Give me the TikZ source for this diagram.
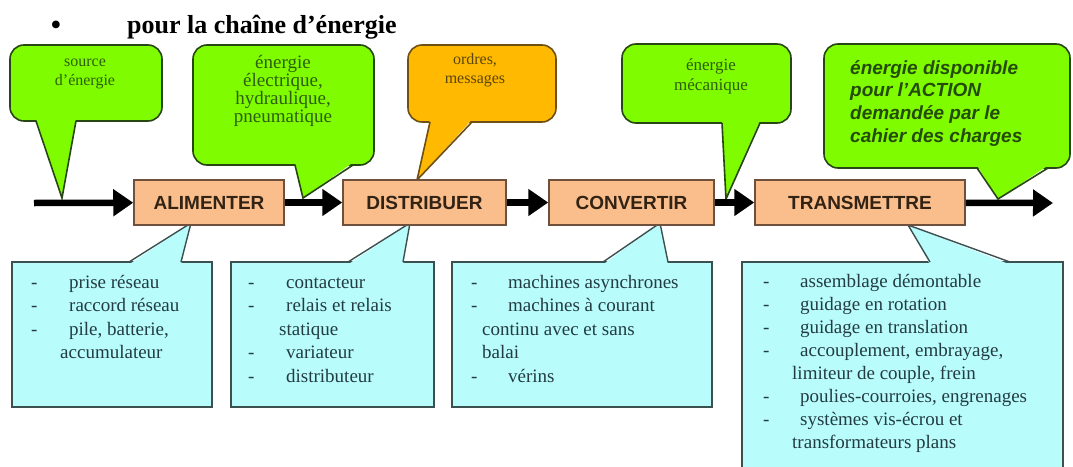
\documentclass[tikz,border=0pt]{standalone}
\usepackage{fontspec}
\setmainfont{Liberation Serif}
\newfontfamily\arialfont{Liberation Sans}
\usetikzlibrary{arrows.meta}

\definecolor{bubblegreen}{RGB}{128,252,0}
\definecolor{bubbleline}{RGB}{40,70,20}
\definecolor{bubbletext}{RGB}{45,95,10}
\definecolor{amber}{RGB}{255,185,0}
\definecolor{amberline}{RGB}{110,80,20}
\definecolor{ambertext}{RGB}{90,70,10}
\definecolor{peach}{RGB}{250,190,140}
\definecolor{peachline}{RGB}{110,80,60}
\definecolor{stagetext}{RGB}{50,35,20}
\definecolor{paleblue}{RGB}{185,252,252}
\definecolor{slateline}{RGB}{60,80,80}
\definecolor{slatetext}{RGB}{35,60,65}

% a dash followed by a tab stop, for the item lists
\newcommand\itemdash[1]{\makebox[#1pt][l]{-}}

% tail of a speech bubble: filled triangle that hides the box edge, then its two sides
\newcommand\downtail[6]{%
  \fill[#1] (#3,#5-2.5) -- #6 -- (#4,#5-2.5) -- cycle;
  \draw[#2, line width=1.6pt] (#3,#5) -- #6 -- (#4,#5);}
\newcommand\uptail[6]{%
  \fill[#1] (#3,#5+2.5) -- #6 -- (#4,#5+2.5) -- cycle;
  \draw[#2, line width=1.4pt] (#3,#5) -- #6 -- (#4,#5);}

\tikzset{
  bubble/.style={draw=bubbleline, fill=bubblegreen, line width=1.6pt,
    rounded corners=14pt, inner sep=0pt},
  orderbubble/.style={bubble, draw=amberline, fill=amber},
  notebox/.style={draw=slateline, fill=paleblue, line width=1.4pt, inner sep=0pt},
  stage/.style={draw=peachline, fill=peach, line width=1.5pt, minimum height=45,
    inner sep=0pt, text=stagetext, font=\arialfont\bfseries\fontsize{19}{22}\selectfont},
  bubbletxt/.style={inner sep=0pt, anchor=base, text=bubbletext},
  listtxt/.style={inner sep=0pt, anchor=base west, text=slatetext,
    font=\rmfamily\fontsize{19}{23.6}\selectfont},
  flow/.style={line width=6.5pt, -{Triangle[length=20pt,width=26pt]}},
}

\begin{document}
\begin{tikzpicture}[x=1pt,y=-1pt]
\useasboundingbox (0,0) rectangle (1073,466);
\fill[white] (0,0) rectangle (1073,466);
\clip (0,0) rectangle (1073,466);

% heading
\node[anchor=base, inner sep=0pt, font=\rmfamily\fontsize{32}{34}\selectfont] (bullet) at (56,35) {•};
\node[anchor=base west, inner sep=0pt, font=\rmfamily\bfseries\fontsize{26}{30}\selectfont] (title) at (127,33) {pour la chaîne d’énergie};

% speech bubbles above the chain
\node[bubble, minimum width=152, minimum height=76] (src) at (86,83) {};
\downtail{bubblegreen}{bubbleline}{36}{76}{121}{(62,198)}
\node[bubbletxt, font=\rmfamily\fontsize{16}{19}\selectfont] (srctxt) at (85,66)
  {\begin{tabular}[t]{@{}c@{}}source\\ d’énergie\end{tabular}};

\node[bubble, minimum width=181, minimum height=120] (elec) at (283.5,105) {};
\downtail{bubblegreen}{bubbleline}{295}{353}{165}{(303,198)}
\node[bubbletxt, font=\rmfamily\fontsize{19}{17.5}\selectfont] (electxt) at (283,68)
  {\begin{tabular}[t]{@{}c@{}}énergie\\ électrique,\\ hydraulique,\\ pneumatique\end{tabular}};

\node[orderbubble, minimum width=148, minimum height=77] (orders) at (482,83.5) {};
\downtail{amber}{amberline}{430}{472}{122}{(417,180)}
\node[bubbletxt, text=ambertext, font=\rmfamily\fontsize{16}{19}\selectfont] (orderstxt) at (475,64)
  {\begin{tabular}[t]{@{}c@{}}ordres,\\ messages\end{tabular}};

\node[bubble, minimum width=169, minimum height=79] (mech) at (706.5,83.5) {};
\downtail{bubblegreen}{bubbleline}{722}{760}{123}{(726,199)}
\node[bubbletxt, font=\rmfamily\fontsize{17}{20}\selectfont] (mechtxt) at (711,70)
  {\begin{tabular}[t]{@{}c@{}}énergie\\ mécanique\end{tabular}};

\node[bubble, minimum width=246, minimum height=124] (action) at (947,106) {};
\downtail{bubblegreen}{bubbleline}{977}{1048}{168}{(998,199)}
\node[bubbletxt, anchor=base west, text=bubbletext!80!black,
  font=\arialfont\bfseries\itshape\fontsize{19}{22.7}\selectfont] (actiontxt) at (850,74)
  {\begin{tabular}[t]{@{}l@{}}énergie disponible\\ pour l’ACTION\\ demandée par le\\ cahier des charges\end{tabular}};

% notes below the chain
\node[notebox, minimum width=200, minimum height=145] (noteA) at (112,334.5) {};
\uptail{paleblue}{slateline}{129}{181}{262}{(191,223)}
\node[listtxt] (listA) at (31,288) {\begin{tabular}[t]{@{}l@{}}
  \itemdash{38}prise réseau\\
  \itemdash{38}raccord réseau\\
  \itemdash{38}pile, batterie,\\
  \hspace*{29pt}accumulateur\end{tabular}};

\node[notebox, minimum width=203, minimum height=145] (noteB) at (332.5,334.5) {};
\uptail{paleblue}{slateline}{348}{403}{262}{(410,223)}
\node[listtxt] (listB) at (248,288) {\begin{tabular}[t]{@{}l@{}}
  \itemdash{38}contacteur\\
  \itemdash{38}relais et relais\\
  \hspace*{31pt}statique\\
  \itemdash{38}variateur\\
  \itemdash{38}distributeur\end{tabular}};

\node[notebox, minimum width=260, minimum height=145] (noteC) at (582,334.5) {};
\uptail{paleblue}{slateline}{603}{668}{262}{(660,223)}
\node[listtxt] (listC) at (471,288) {\begin{tabular}[t]{@{}l@{}}
  \itemdash{37}machines asynchrones\\
  \itemdash{37}machines à courant\\
  \hspace*{11pt}continu avec et sans\\
  \hspace*{11pt}balai\\
  \itemdash{37}vérins\end{tabular}};

\node[notebox, minimum width=321, minimum height=218] (noteD) at (902.5,371) {};
\uptail{paleblue}{slateline}{930}{1010}{262}{(908,225)}
\node[listtxt, font=\rmfamily\fontsize{19}{23.0}\selectfont] (listD) at (763,287) {\begin{tabular}[t]{@{}l@{}}
  \itemdash{37}assemblage démontable\\
  \itemdash{37}guidage en rotation\\
  \itemdash{37}guidage en translation\\
  \itemdash{37}accouplement, embrayage,\\
  \hspace*{29pt}limiteur de couple, frein\\
  \itemdash{37}poulies-courroies, engrenages\\
  \itemdash{37}systèmes vis-écrou et\\
  \hspace*{29pt}transformateurs plans\end{tabular}};

% the chain of functions
\coordinate (in) at (34,203);
\coordinate (out) at (1053,203);
\node[stage, minimum width=150] (alim) at (209,202.5) {ALIMENTER};
\node[stage, minimum width=163] (dist) at (424.5,202.5) {DISTRIBUER};
\node[stage, minimum width=165] (conv) at (631.5,202.5) {CONVERTIR};
\node[stage, minimum width=210] (trans) at (860,202.5) {TRANSMETTRE};

\draw[flow] (in) -- (alim);
\draw[flow] (alim) -- (dist);
\draw[flow] (dist) -- (conv);
\draw[flow] (conv) -- (trans);
\draw[flow] (trans) -- (out);
\end{tikzpicture}
\end{document}
